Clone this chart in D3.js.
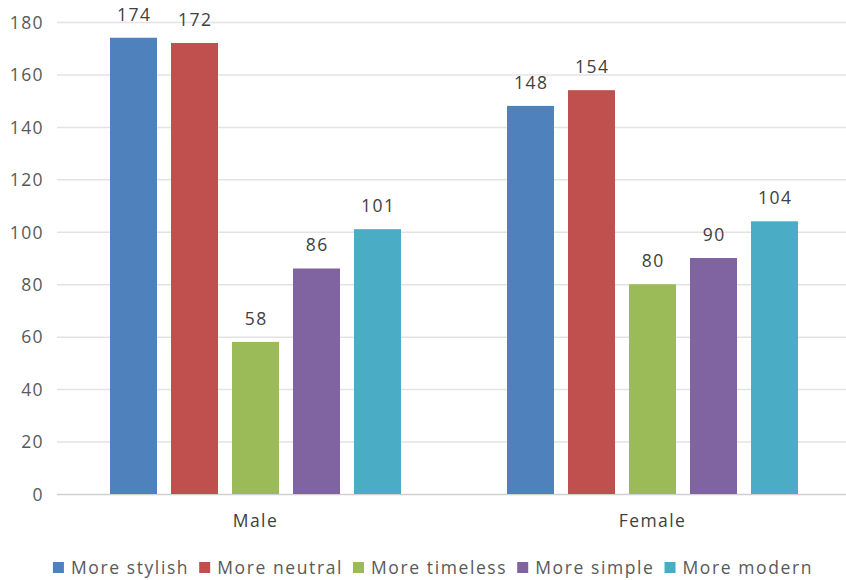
<!DOCTYPE html>
<html>
<head>
<meta charset="utf-8">
<script src="https://cdn.jsdelivr.net/npm/d3@7"></script>
<style>
  html, body { margin: 0; padding: 0; background: #fff; }
  svg { display: block; font-family: "Open Sans", "Noto Sans", sans-serif; }
</style>
</head>
<body>
<svg id="chart" width="846" height="580"></svg>
<script>
// Survey responses by gender
const categories = ["Male", "Female"];
const seriesNames = ["More stylish", "More neutral", "More timeless", "More simple", "More modern"];
const maleValues = [174, 172, 58, 86, 101];
const femaleValues = [148, 154, 80, 90, 104];
const yTicks = [0, 20, 40, 60, 80, 100, 120, 140, 160, 180];
const seriesColors = ["#4F81BD", "#C0504D", "#9BBB59", "#8064A2", "#4BACC6"];

const valuesByCategory = { "Male": maleValues, "Female": femaleValues };
const rows = categories.map(c => ({
  category: c,
  values: seriesNames.map((s, i) => ({ series: s, value: valuesByCategory[c][i] }))
}));

const FONT_SIZE = 17.5;
const LETTER_SPACING = 1.4;

const svg = d3.select("#chart");
const plot = { left: 57, right: 851, top: 22, bottom: 494 };

const y = d3.scaleLinear().domain([0, 180]).range([plot.bottom, plot.top]);

const x0 = d3.scaleBand()
  .domain(categories)
  .range([plot.left, plot.right])
  .paddingInner(106 / 397)
  .paddingOuter(53 / 397);

const x1 = d3.scaleBand()
  .domain(seriesNames)
  .range([0, x0.bandwidth()])
  .paddingInner(14 / 61);

const color = d3.scaleOrdinal().domain(seriesNames).range(seriesColors);

const styleText = (sel, spacing = LETTER_SPACING) => sel
  .attr("font-family", "Open Sans, sans-serif")
  .attr("font-size", FONT_SIZE)
  .attr("letter-spacing", spacing);

// Horizontal gridlines
svg.append("g")
  .selectAll("line")
  .data(yTicks)
  .join("line")
  .attr("x1", plot.left)
  .attr("x2", 846)
  .attr("y1", d => y(d) + 0.5)
  .attr("y2", d => y(d) + 0.5)
  .attr("stroke", d => d === 0 ? "#d0d0d0" : "#e3e3e3")
  .attr("stroke-width", 1.5);

// Y axis labels
const yAxis = d3.axisLeft(y).tickValues(yTicks).tickSize(0).tickPadding(0);
svg.append("g")
  .attr("transform", `translate(44,0)`)
  .call(yAxis)
  .call(g => g.select(".domain").remove())
  .call(g => g.selectAll("text")
    .attr("fill", "#595959")
    .attr("dy", "0.36em")
    .call(styleText));

// X axis labels
const xAxis = d3.axisBottom(x0).tickSize(0).tickPadding(0);
svg.append("g")
  .attr("transform", `translate(0,${plot.bottom})`)
  .call(xAxis)
  .call(g => g.select(".domain").remove())
  .call(g => g.selectAll("text")
    .attr("y", 33)
    .attr("dy", 0)
    .attr("fill", "#404040")
    .call(styleText));

// Bars
const groups = svg.append("g")
  .selectAll("g")
  .data(rows)
  .join("g")
  .attr("transform", d => `translate(${x0(d.category)},0)`);

groups.selectAll("rect")
  .data(d => d.values)
  .join("rect")
  .attr("x", d => x1(d.series))
  .attr("width", x1.bandwidth())
  .attr("y", d => y(d.value))
  .attr("height", d => y(0) - y(d.value))
  .attr("fill", d => color(d.series));

// Value labels
groups.selectAll("text.value")
  .data(d => d.values)
  .join("text")
  .attr("class", "value")
  .attr("x", d => x1(d.series) + x1.bandwidth() / 2 + LETTER_SPACING / 2)
  .attr("y", d => y(d.value) - 17)
  .attr("text-anchor", "middle")
  .attr("fill", "#404040")
  .call(styleText)
  .text(d => d.value);

// Legend
const legend = svg.append("g");
const items = legend.selectAll("g")
  .data(seriesNames)
  .join("g");
items.append("rect")
  .attr("width", 11)
  .attr("height", 11)
  .attr("y", -12)
  .attr("fill", d => color(d));
items.append("text")
  .attr("x", 18)
  .attr("fill", "#595959")
  .call(styleText, 1.6)
  .text(d => d);

const LEGEND_GAP = 10;
let offset = 0;
items.each(function () {
  const w = 18 + this.querySelector("text").getComputedTextLength();
  d3.select(this).attr("transform", `translate(${offset},0)`);
  offset += w + LEGEND_GAP;
});
const legendWidth = offset - LEGEND_GAP;
legend.attr("transform", `translate(${433 - legendWidth / 2},574)`);
</script>
</body>
</html>
